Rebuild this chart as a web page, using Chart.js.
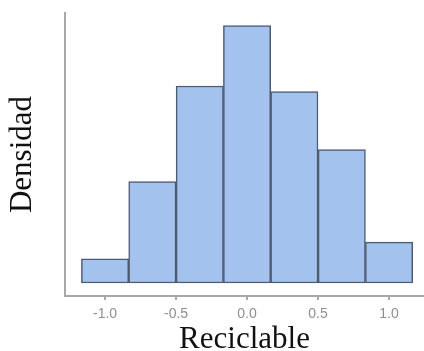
<!DOCTYPE html>
<html>
<head>
<meta charset="utf-8">
<title>Densidad - Reciclable</title>
<script src="https://cdn.jsdelivr.net/npm/chart.js@4/dist/chart.umd.min.js"></script>
<style>
  body { margin: 0; background: #fff; }
  #histChart { display: block; }
</style>
</head>
<body>
<canvas id="histChart" width="424" height="351"></canvas>
<script>
// Histogram bins (width 1/3) and their densities
const binCenters = [-1.0, -0.667, -0.333, 0.0, 0.333, 0.667, 1.0];
const densities = [0.077, 0.322, 0.626, 0.818, 0.608, 0.424, 0.130];
const xTicks = [-1.0, -0.5, 0.0, 0.5, 1.0];

const axisGray = '#a8a8a8';

document.addEventListener('DOMContentLoaded', function () {
    const ctx = document.getElementById('histChart').getContext('2d');

    const points = binCenters.map((x, i) => ({ x: x, y: densities[i] }));

    new Chart(ctx, {
        type: 'bar',
        data: {
            datasets: [{
                data: points,
                backgroundColor: '#a3c2ee',
                borderColor: '#4e5a70',
                borderWidth: 1.5,
                borderSkipped: false,
                barPercentage: 1,
                categoryPercentage: 1
            }]
        },
        options: {
            responsive: false,
            animation: false,
            layout: { padding: { top: 13, right: 0, bottom: 0, left: 0 } },
            plugins: {
                legend: { display: false },
                tooltip: { enabled: false }
            },
            scales: {
                x: {
                    type: 'linear',
                    min: -1.282,
                    max: 1.246,
                    offset: false,
                    afterFit: function (axis) { axis.height = 55; },
                    afterBuildTicks: function (axis) {
                        axis.ticks = xTicks.map(v => ({ value: v }));
                    },
                    grid: {
                        display: true,
                        offset: false,
                        drawOnChartArea: false,
                        drawTicks: true,
                        tickLength: 4,
                        color: axisGray,
                        lineWidth: 2
                    },
                    border: { display: true, color: axisGray, width: 2 },
                    ticks: {
                        padding: 6,
                        color: '#8f8f8f',
                        font: { family: 'Liberation Sans', size: 14 },
                        callback: v => v.toFixed(1)
                    },
                    title: {
                        display: true,
                        text: 'Reciclable',
                        color: '#111',
                        font: { family: 'Liberation Serif', size: 31, lineHeight: 1 },
                        padding: { top: 0, bottom: -4 }
                    }
                },
                y: {
                    min: -0.0413,
                    max: 0.858,
                    afterFit: function (axis) { axis.width = 65; },
                    grid: { display: false },
                    border: { display: true, color: axisGray, width: 2 },
                    ticks: { display: false },
                    title: {
                        display: true,
                        text: 'Densidad',
                        color: '#111',
                        font: { family: 'Liberation Serif', size: 31, lineHeight: 1 },
                        padding: { top: 7, bottom: 0 }
                    }
                }
            }
        }
    });
});
</script>
</body>
</html>
